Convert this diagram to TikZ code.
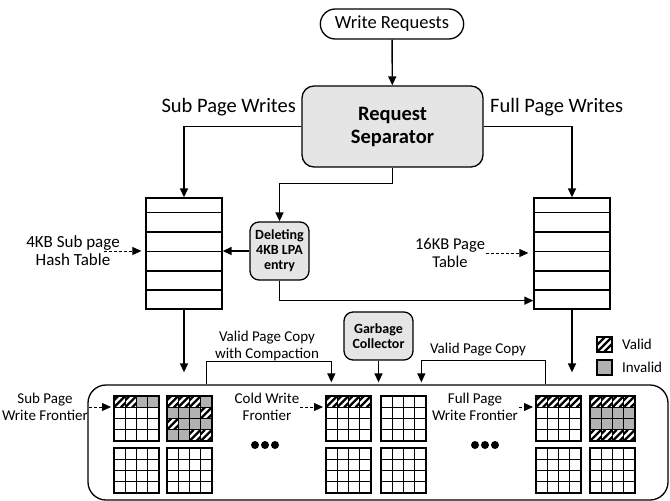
\documentclass[tikz,border=0pt]{standalone}
\usepackage{fontspec}
\setmainfont{Carlito}
\usepackage{tikz}
\usetikzlibrary{arrows.meta,calc,positioning,shapes.misc}
\tikzset{
	conn/.style={line width=1.4pt, -{Triangle[length=9pt,width=8pt]}},
	dashconn/.style={line width=0.8pt, densely dashed, -{Triangle[length=9pt,width=8pt]}},
	unit box/.style={draw, line width=1.3pt, rounded corners=9pt, fill=gray!20, align=center, inner sep=1pt, font=\bfseries\fontsize{14}{15}\selectfont},
	pill/.style={draw, line width=1.3pt, rounded rectangle, minimum width=150pt, minimum height=30pt, font=\fontsize{18.5}{20}\selectfont},
	tablebox/.style={draw, line width=1.3pt, fill=white, inner sep=0pt, minimum width=76pt, minimum height=111pt},
	lbl/.style={align=center, inner sep=1pt, font=\fontsize{15}{17}\selectfont},
	biglbl/.style={inner sep=1pt, font=\fontsize{20.5}{22}\selectfont}
}
\tikzstyle{cellw}=[fill=white]
\tikzstyle{cellg}=[fill=gray!60]
\tikzstyle{cellh}=[fill=white, path picture={
	\foreach \o in {-7,0,7}
		\draw[line width=2.3pt] ($(path picture bounding box.south west)+(\o,0)$) -- ($(path picture bounding box.north east)+(\o,0)$);
}]
% one 4x4 flash block, cells given row by row
\newcommand{\pageblock}[3]{
	\foreach \s [count=\k from 0] in #3 {
		\pgfmathtruncatemacro{\col}{mod(\k,4)}
		\pgfmathtruncatemacro{\row}{div(\k,4)}
		\path[cell\s, draw, line width=1.3pt] ({#1+\col*11.25},{#2+\row*11.25}) rectangle ++(11.25,11.25);
	}
}
\def\blankblock{w,w,w,w,w,w,w,w,w,w,w,w,w,w,w,w}

\begin{document}
\begin{tikzpicture}[x=1pt,y=-1pt]
	\useasboundingbox (0,0) rectangle (670,501);
%
	\node[pill] (req) at (392,24) {Write Requests};
	\node[unit box, minimum width=181pt, minimum height=81pt, rounded corners=12pt, font=\bfseries\fontsize{20.5}{23}\selectfont] (sep) at (392.5,126.5) {Request\\Separator};
	\node[biglbl, anchor=east] (subw) at (297,107) {Sub Page Writes};
	\node[biglbl, anchor=west] (fullw) at (489,107) {Full Page Writes};
%
	\node[tablebox] (subtab) at (184,253.5) {};
	\node[tablebox] (fulltab) at (572,253.5) {};
	\foreach \t in {subtab,fulltab}
		\foreach \r in {15,34.5,54,73.5,92.5}
			\draw[line width=1.3pt] ($(\t.north west)+(0,\r)$) -- ($(\t.north east)+(0,\r)$);
	\node[unit box, minimum width=59pt, minimum height=58pt] (del) at (279.5,251) {Deleting\\4KB LPA\\entry};
	\node[unit box, minimum width=69pt, minimum height=48pt] (gc) at (378.5,336) {Garbage\\Collector};
	\node[lbl, font=\fontsize{17}{18}\selectfont] (hashlbl) at (73,251) {4KB Sub page\\Hash Table};
	\node[lbl, font=\fontsize{16.5}{18}\selectfont] (pagelbl) at (450,253) {16KB Page\\Table};
%
	\node[draw, line width=1.3pt, rounded corners=18pt, minimum width=580pt, minimum height=115pt] (flash) at (378,442.5) {};
	\node[lbl] (cmplbl) at (267,346) {Valid Page Copy\\with Compaction};
	\node[lbl] (copylbl) at (478,350) {Valid Page Copy};
	\node[lbl] (subfr) at (45,407) {Sub Page\\Write Frontier};
	\node[lbl] (coldfr) at (267,407) {Cold Write\\Frontier};
	\node[lbl] (fullfr) at (475,407) {Full Page\\Write Frontier};
%
	\pageblock{114}{396}{{h,h,g,g,w,w,w,w,w,w,w,w,w,w,w,w}}
	\pageblock{167}{396}{{h,h,h,g,g,g,g,h,h,g,g,g,g,g,h,h}}
	\pageblock{326}{396}{{h,h,h,h,w,w,w,w,w,w,w,w,w,w,w,w}}
	\pageblock{381}{396}{\blankblock}
	\pageblock{536}{396}{{h,h,h,h,w,w,w,w,w,w,w,w,w,w,w,w}}
	\pageblock{590}{396}{{h,h,h,h,g,g,g,g,g,g,g,g,h,h,h,h}}
	\foreach \x in {114,167,326,381,536,590}
		\pageblock{\x}{448}{\blankblock}
	\coordinate (b1) at (114,396);
	\coordinate (b3) at (326,396);
	\coordinate (b5) at (536,396);
	\foreach \d in {-10,0,10} {
		\fill (265+\d,445) circle (4);
		\fill (485+\d,445) circle (4);
	}
%
	\path[cellh, draw, line width=1.2pt] (597,337) rectangle ++(15,15);
	\path[cellg, draw, line width=1.2pt] (597,360) rectangle ++(15,15);
	\node[lbl, anchor=west] (validlbl) at (621,344.5) {Valid};
	\node[lbl, anchor=west] (invalidlbl) at (621,367.5) {Invalid};
%
	\path (flash.north west) ++(119,0) coordinate (cmpfrom) ++(125,0) coordinate (cmpto)
		++(90,0) coordinate (cpto) ++(124,0) coordinate (cpfrom);
	\draw[conn] (req) -- (sep);
	\draw[conn] (sep.west) -| (subtab.north);
	\draw[conn] (sep.east) -| (fulltab.north);
	\draw[conn] (sep.south) -- ++(0,16) -| (del.north);
	\draw[conn] (del.west) -- (del.west -| subtab.east);
	\draw[conn] (del.south) |- ($(fulltab.south west)+(0,-9)$);
	\draw[conn, shorten >=12pt] (subtab.south) -- (subtab.south |- flash.north);
	\draw[conn, shorten >=12pt] (fulltab.south) -- (fulltab.south |- flash.north);
	\draw[conn, shorten >=2pt] (gc.south) -- (gc.south |- flash.north);
	\draw[conn, shorten >=2pt] (cmpfrom) -- ++(0,-23) -| (cmpto);
	\draw[conn, shorten >=2pt] (cpfrom) -- ++(0,-24) -| (cpto);
	\draw[dashconn, shorten >=4pt] ([xshift=-17pt]hashlbl.east) -- (hashlbl.east -| subtab.west);
	\draw[dashconn, shorten >=5pt] (pagelbl.east) -- (pagelbl.east -| fulltab.west);
	\draw[dashconn, shorten >=3pt] (subfr.east) -- (subfr.east -| b1);
	\draw[dashconn, shorten >=3pt] (coldfr.east) -- (coldfr.east -| b3);
	\draw[dashconn, shorten >=3pt] (fullfr.east) -- (fullfr.east -| b5);
\end{tikzpicture}
\end{document}
